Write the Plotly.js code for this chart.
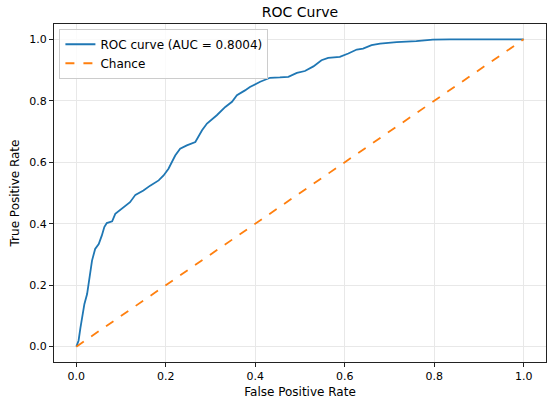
<!DOCTYPE html>
<html>
<head>
<meta charset="utf-8">
<script src="https://cdn.plot.ly/plotly-3.0.1.min.js"></script>
<style>html,body{margin:0;padding:0;background:#fff;}#chart{width:550px;height:406px;}</style>
</head>
<body>
<div id="chart"></div>
<script>
const fpr = [0, 0.005, 0.009, 0.0127, 0.018, 0.024, 0.030, 0.035, 0.042, 0.050, 0.057, 0.0625, 0.068, 0.080, 0.087, 0.102, 0.120, 0.132, 0.150, 0.165, 0.184, 0.195, 0.206, 0.221, 0.232, 0.247, 0.266, 0.281, 0.292, 0.314, 0.333, 0.348, 0.359, 0.377, 0.388, 0.411, 0.433, 0.455, 0.474, 0.493, 0.511, 0.530, 0.548, 0.563, 0.589, 0.608, 0.627, 0.641, 0.660, 0.679, 0.716, 0.760, 0.797, 0.835, 1.0];
const tpr = [0, 0.02, 0.06, 0.095, 0.139, 0.171, 0.226, 0.280, 0.318, 0.334, 0.362, 0.389, 0.402, 0.408, 0.432, 0.448, 0.470, 0.494, 0.508, 0.524, 0.541, 0.557, 0.579, 0.622, 0.644, 0.655, 0.666, 0.704, 0.726, 0.753, 0.780, 0.797, 0.818, 0.834, 0.845, 0.862, 0.875, 0.876, 0.878, 0.891, 0.897, 0.912, 0.932, 0.940, 0.943, 0.954, 0.967, 0.970, 0.981, 0.986, 0.991, 0.994, 0.999, 1.0, 1.0];
const chanceX = [0, 1];
const chanceY = [0, 1];
const aucLabel = "ROC curve (AUC = 0.8004)";
const tickVals = [0, 0.2, 0.4, 0.6, 0.8, 1.0];
const tickText = ["0.0", "0.2", "0.4", "0.6", "0.8", "1.0"];

const font = "DejaVu Sans, sans-serif";
const axisCommon = {
  range: [-0.05, 1.05],
  tickvals: tickVals,
  ticktext: tickText,
  showgrid: true,
  gridcolor: "#e8e8e8",
  gridwidth: 1,
  zeroline: false,
  showline: true,
  linecolor: "#222",
  linewidth: 1,
  mirror: true,
  ticks: "outside",
  ticklen: 4,
  tickcolor: "#222",
  tickfont: {family: font, size: 11, color: "#000"}
};

const data = [
  {x: fpr, y: tpr, type: "scatter", mode: "lines", name: aucLabel,
   line: {color: "#1f77b4", width: 1.8}},
  {x: chanceX, y: chanceY, type: "scatter", mode: "lines", name: "Chance",
   line: {color: "#ff7f0e", width: 1.8, dash: "dash"}}
];

const layout = {
  width: 550, height: 406,
  margin: {l: 54, r: 4, t: 24, b: 44},
  paper_bgcolor: "#fff", plot_bgcolor: "#fff",
  title: {text: "ROC Curve", font: {family: font, size: 14, color: "#000"}, x: 0.5, xref: "paper", xanchor: "center", y: 0.97, yanchor: "middle"},
  xaxis: Object.assign({}, axisCommon, {title: {text: "False Positive Rate", font: {family: font, size: 12, color: "#000"}, standoff: 5}}),
  yaxis: Object.assign({}, axisCommon, {title: {text: "True Positive Rate", font: {family: font, size: 12, color: "#000"}, standoff: 7}}),
  showlegend: true,
  legend: {x: 0.011, y: 0.986, xanchor: "left", yanchor: "top",
           bgcolor: "rgba(255,255,255,0.8)", bordercolor: "#cccccc", borderwidth: 1,
           itemwidth: 30,
           font: {family: font, size: 12, color: "#000"}, tracegroupgap: 0}
};

Plotly.newPlot("chart", data, layout, {displayModeBar: false, staticPlot: true});
</script>
</body>
</html>
